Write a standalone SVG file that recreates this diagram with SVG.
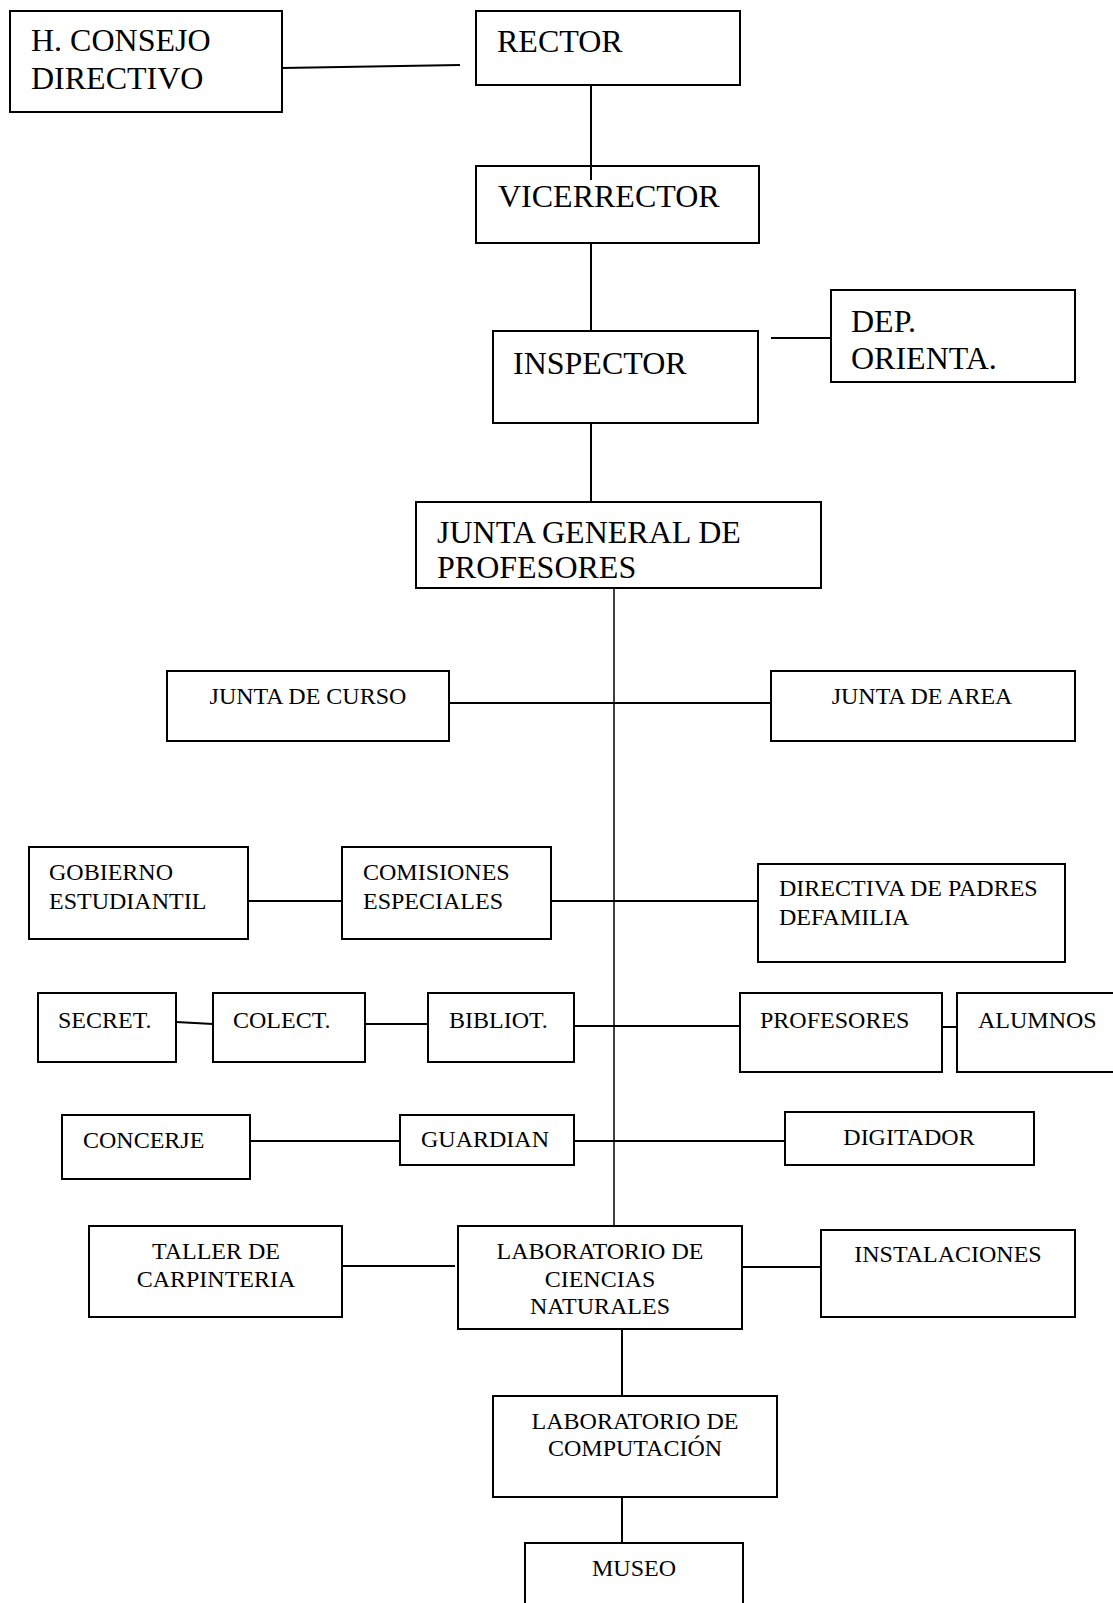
<svg xmlns="http://www.w3.org/2000/svg" width="1113" height="1603" viewBox="0 0 1113 1603">
<style>
.b{fill:none;stroke:#000;stroke-width:2}
.c line{stroke:#000;stroke-width:2;fill:none}
.L{font-family:"Liberation Serif","Times New Roman",serif;font-size:32px;fill:#000}
.S{font-family:"Liberation Serif","Times New Roman",serif;font-size:24px;fill:#000}
.m{text-anchor:middle}
</style>
<rect width="1113" height="1603" fill="#fff"/>
<g id="consejo"><rect class="b" x="10" y="11" width="272" height="101"/><text class="L" x="31" y="51">H. CONSEJO</text><text class="L" x="31" y="89">DIRECTIVO</text></g>
<g id="rector"><rect class="b" x="476" y="11" width="264" height="74"/><text class="L" x="497" y="52">RECTOR</text></g>
<g id="vicerrector"><rect class="b" x="476" y="166" width="283" height="77"/><text class="L" x="498" y="207">VICERRECTOR</text></g>
<g id="inspector"><rect class="b" x="493" y="331" width="265" height="92"/><text class="L" x="513" y="374">INSPECTOR</text></g>
<g id="dep"><rect class="b" x="831" y="290" width="244" height="92"/><text class="L" x="851" y="332">DEP.</text><text class="L" x="851" y="369">ORIENTA.</text></g>
<g id="junta-general"><rect class="b" x="416" y="502" width="405" height="86"/><text class="L" x="437" y="543">JUNTA GENERAL DE</text><text class="L" x="437" y="578">PROFESORES</text></g>
<g id="junta-curso"><rect class="b" x="167" y="671" width="282" height="70"/><text class="S m" x="308" y="704">JUNTA DE CURSO</text></g>
<g id="junta-area"><rect class="b" x="771" y="671" width="304" height="70"/><text class="S m" x="922" y="704">JUNTA DE AREA</text></g>
<g id="gobierno"><rect class="b" x="29" y="847" width="219" height="92"/><text class="S" x="49" y="880">GOBIERNO</text><text class="S" x="49" y="909">ESTUDIANTIL</text></g>
<g id="comisiones"><rect class="b" x="342" y="847" width="209" height="92"/><text class="S" x="363" y="880">COMISIONES</text><text class="S" x="363" y="909">ESPECIALES</text></g>
<g id="directiva"><rect class="b" x="758" y="864" width="307" height="98"/><text class="S" x="779" y="896">DIRECTIVA DE PADRES</text><text class="S" x="779" y="925">DEFAMILIA</text></g>
<g id="secret"><rect class="b" x="38" y="993" width="138" height="69"/><text class="S" x="58" y="1028">SECRET.</text></g>
<g id="colect"><rect class="b" x="213" y="993" width="152" height="69"/><text class="S" x="233" y="1028">COLECT.</text></g>
<g id="bibliot"><rect class="b" x="428" y="993" width="146" height="69"/><text class="S" x="449" y="1028">BIBLIOT.</text></g>
<g id="profesores"><rect class="b" x="740" y="993" width="202" height="79"/><text class="S" x="760" y="1028">PROFESORES</text></g>
<g id="alumnos"><rect class="b" x="957" y="993" width="160" height="79"/><text class="S" x="978" y="1028">ALUMNOS</text></g>
<g id="concerje"><rect class="b" x="62" y="1115" width="188" height="64"/><text class="S" x="83" y="1148">CONCERJE</text></g>
<g id="guardian"><rect class="b" x="400" y="1115" width="174" height="50"/><text class="S" x="421" y="1147">GUARDIAN</text></g>
<g id="digitador"><rect class="b" x="785" y="1112" width="249" height="53"/><text class="S m" x="909" y="1145">DIGITADOR</text></g>
<g id="taller"><rect class="b" x="89" y="1226" width="253" height="91"/><text class="S m" x="216" y="1259">TALLER DE</text><text class="S m" x="216" y="1287">CARPINTERIA</text></g>
<g id="lab-ciencias"><rect class="b" x="458" y="1226" width="284" height="103"/><text class="S m" x="600" y="1259">LABORATORIO DE</text><text class="S m" x="600" y="1287">CIENCIAS</text><text class="S m" x="600" y="1314">NATURALES</text></g>
<g id="instalaciones"><rect class="b" x="821" y="1230" width="254" height="87"/><text class="S m" x="948" y="1262">INSTALACIONES</text></g>
<g id="lab-computacion"><rect class="b" x="493" y="1396" width="284" height="101"/><text class="S m" x="635" y="1429">LABORATORIO DE</text><text class="S m" x="635" y="1456">COMPUTACIÓN</text></g>
<g id="museo"><rect class="b" x="525" y="1543" width="218" height="70"/><text class="S m" x="634" y="1576">MUSEO</text></g>
<g class="c" id="connectors">
<line x1="282" y1="68" x2="460" y2="65"/>
<line x1="591" y1="85" x2="591" y2="180"/>
<line x1="591" y1="243" x2="591" y2="331"/>
<line x1="771" y1="338" x2="831" y2="338"/>
<line x1="591" y1="423" x2="591" y2="502"/>
<line x1="614" y1="588" x2="614" y2="1226" style="stroke-width:1.5"/>
<line x1="449" y1="703" x2="771" y2="703"/>
<line x1="248" y1="901" x2="342" y2="901"/>
<line x1="551" y1="901" x2="758" y2="901"/>
<line x1="176" y1="1022" x2="213" y2="1024"/>
<line x1="365" y1="1024" x2="428" y2="1024"/>
<line x1="574" y1="1026" x2="740" y2="1026"/>
<line x1="942" y1="1027" x2="957" y2="1027"/>
<line x1="250" y1="1141" x2="400" y2="1141"/>
<line x1="574" y1="1141" x2="785" y2="1141"/>
<line x1="342" y1="1266" x2="455" y2="1266"/>
<line x1="742" y1="1267" x2="821" y2="1267"/>
<line x1="622" y1="1329" x2="622" y2="1396"/>
<line x1="622" y1="1497" x2="622" y2="1543"/>
</g>
</svg>
